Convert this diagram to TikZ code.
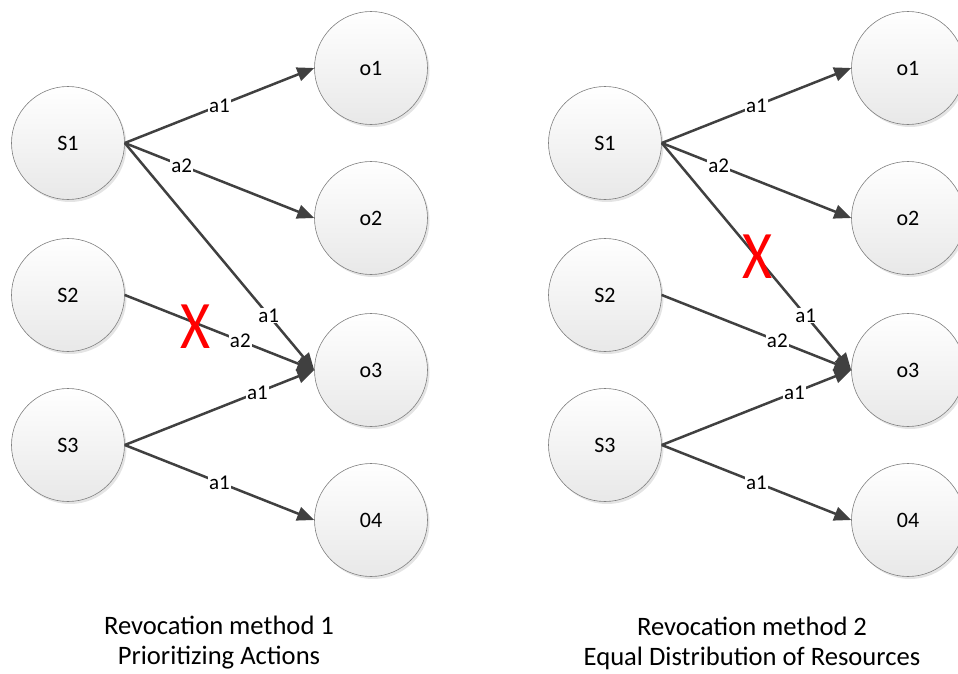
\documentclass[tikz,border=0pt]{standalone}
\usepackage{fontspec}
\setmainfont{Carlito}
\usetikzlibrary{arrows.meta,shadows}
\definecolor{edgec}{HTML}{404040}
\definecolor{ringc}{HTML}{808080}
\begin{document}
\begin{tikzpicture}[x=1pt,y=-1pt,
  ent/.style={circle,minimum size=113pt,inner sep=0pt,draw=ringc,line width=0.6pt,
    top color=white,bottom color=black!9,
    drop shadow={shadow xshift=2pt,shadow yshift=-2.5pt,opacity=0.3,fill=black!35},
    font=\fontsize{22}{26}\selectfont},
  rel/.style={draw=edgec,line width=2.5pt,-{Triangle[length=17pt,width=14pt]}},
  lbl/.style={fill=white,inner sep=1pt,font=\fontsize{21}{25}\selectfont,text=black},
  cross/.style={text=red,inner sep=0pt,xscale=0.85,font=\fontsize{68}{68}\selectfont},
  captiontext/.style={align=center,font=\fontsize{26.6}{30}\selectfont}]
\useasboundingbox (0,0) rectangle (958,673);
\foreach \p/\dx in {L/0,R/537}{
\begin{scope}[xshift=\dx pt, name prefix=\p-]
  \node[ent] (S1) at (68,143) {S1};
  \node[ent] (S2) at (68,295) {S2};
  \node[ent] (S3) at (68,445) {S3};
  \node[ent] (o1) at (371,68) {o1};
  \node[ent] (o2) at (371,218) {o2};
  \node[ent] (o3) at (371,370) {o3};
  \node[ent] (o4) at (371,520) {04};
  \draw[rel] (S1.east) -- node[lbl,pos=0.5]{a1} (o1.west);
  \draw[rel] (S1.east) -- node[lbl,pos=0.3]{a2} (o2.west);
  \draw[rel] (S1.east) -- node[lbl,pos=0.76]{a1} (o3.west);
  \draw[rel] (S2.east) -- node[lbl,pos=0.61]{a2} (o3.west);
  \draw[rel] (S3.east) -- node[lbl,pos=0.70]{a1} (o3.west);
  \draw[rel] (S3.east) -- node[lbl,pos=0.5]{a1} (o4.west);
\end{scope}}
\node[cross] (xL) at (195,327) {X};
\node[cross] (xR) at (757,257) {X};
\node[captiontext] (capL) at (219,643) {Revocation method 1\\Prioritizing Actions};
\node[captiontext] (capR) at (752,643) {Revocation method 2\\Equal Distribution of Resources};
\end{tikzpicture}
\end{document}
